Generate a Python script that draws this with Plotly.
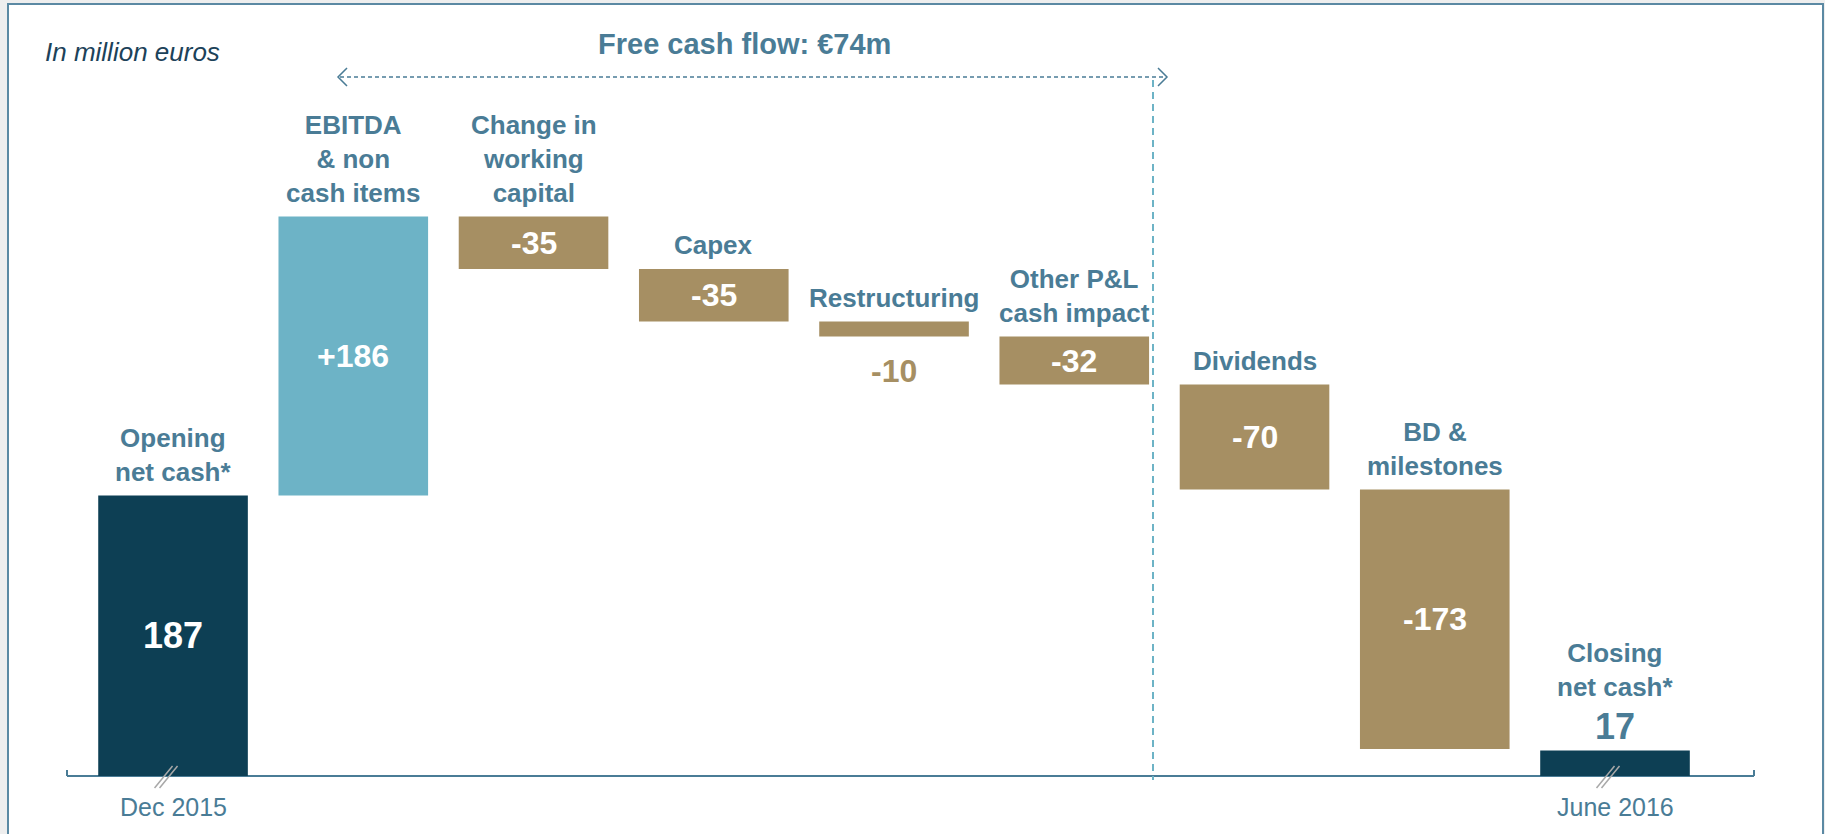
import plotly.graph_objects as go

W, H = 1825, 834

# ---------------- data ----------------
category_labels = [
    "Opening<br>net cash*",
    "EBITDA<br>&amp; non<br>cash items",
    "Change in<br>working<br>capital",
    "Capex",
    "Restructuring",
    "Other P&amp;L<br>cash impact",
    "Dividends",
    "BD &amp;<br>milestones",
    "Closing<br>net cash*",
]
values = [187, 186, -35, -35, -10, -32, -70, -173, 17]
measures = ["absolute", "relative", "relative", "relative", "relative",
            "relative", "relative", "relative", "absolute"]
value_labels = ["187", "+186", "-35", "-35", "-10", "-32", "-70", "-173", "17"]
period_labels = ["Dec 2015", "June 2016"]
period_index = [0, 8]
title_text = "Free cash flow: €74m"
unit_text = "In million euros"

# ---------------- style ----------------
NAVY = "#0d3f54"
LBLUE = "#6db3c6"
TAN = "#a68f63"
TXT = "#4a7c96"
DARKTXT = "#1c4259"
GRAY = "#a8a8a8"
FONT = "Liberation Sans, Arial, sans-serif"

XR = [-0.96, 9.165]
YR = [-38.67, 517.33]

x = list(range(len(values)))

# bar extents derived from the data
lo, hi = [], []
run = 0
for v, m in zip(values, measures):
    if m == "absolute":
        b, e = 0, v
    else:
        b, e = run, run + v
    run = e
    lo.append(min(b, e))
    hi.append(max(b, e))


def pxx(p):  # pixel x -> paper
    return p / W


def pyy(p):  # pixel y -> paper
    return 1 - p / H


def bar_px(i):
    return (i - XR[0]) / (XR[1] - XR[0]) * W


fig = go.Figure()
fig.add_trace(go.Waterfall(
    x=x, y=values, measure=measures, width=0.83,
    increasing=dict(marker=dict(color=LBLUE)),
    decreasing=dict(marker=dict(color=TAN)),
    totals=dict(marker=dict(color=NAVY)),
    connector=dict(visible=False),
    hoverinfo="skip", showlegend=False,
))

shapes = []
# frame
shapes.append(dict(type="rect", xref="paper", yref="paper",
                   x0=pxx(8), x1=pxx(1823), y0=pyy(845), y1=pyy(4),
                   line=dict(color="#5b89a3", width=2), fillcolor="white",
                   layer="below"))
# baseline axis
shapes.append(dict(type="line", xref="paper", yref="y",
                   x0=pxx(67), x1=pxx(1754), y0=0, y1=0,
                   line=dict(color=TXT, width=2), layer="below"))
for ex in (67, 1754):
    shapes.append(dict(type="line", xref="paper", yref="paper",
                       x0=pxx(ex), x1=pxx(ex), y0=pyy(776), y1=pyy(770),
                       line=dict(color=TXT, width=2)))
# axis break marks
for i in period_index:
    cx = bar_px(i) - 7
    for off in (-2.5, 2.5):
        shapes.append(dict(type="line", xref="paper", yref="paper",
                           x0=pxx(cx + off - 9), x1=pxx(cx + off + 9),
                           y0=pyy(788), y1=pyy(766),
                           line=dict(color=GRAY, width=1.5)))
# vertical dashed separator
shapes.append(dict(type="line", xref="paper", yref="paper",
                   x0=pxx(1153), x1=pxx(1153), y0=pyy(80), y1=pyy(780),
                   line=dict(color=LBLUE, width=2, dash="7px,5px")))
# horizontal dashed arrow
shapes.append(dict(type="line", xref="paper", yref="paper",
                   x0=pxx(340), x1=pxx(1165), y0=pyy(77), y1=pyy(77),
                   line=dict(color=TXT, width=1.5, dash="4px,3px")))
for tip, d in ((338, 1), (1167, -1)):
    path = "M {:.5f},{:.5f} L {:.5f},{:.5f} L {:.5f},{:.5f}".format(
        pxx(tip + d * 9), pyy(68), pxx(tip), pyy(77), pxx(tip + d * 9), pyy(86))
    shapes.append(dict(type="path", xref="paper", yref="paper", path=path,
                       line=dict(color=TXT, width=1.5)))

ann = []
# category labels
for i, lab in enumerate(category_labels):
    shift = 47 if i == len(category_labels) - 1 else 7
    ann.append(dict(x=i, y=hi[i], xref="x", yref="y", text=lab,
                    showarrow=False, yanchor="bottom", yshift=shift,
                    font=dict(family=FONT, size=26, color=TXT, weight="bold")))
# value labels
for i, vl in enumerate(value_labels):
    if i == 4:
        ann.append(dict(x=i, y=lo[i], text=vl, showarrow=False, yanchor="middle",
                        yshift=-34,
                        font=dict(family=FONT, size=32, color=TAN, weight="bold")))
    elif i == len(value_labels) - 1:
        ann.append(dict(x=i, y=hi[i], text=vl, showarrow=False, yanchor="middle",
                        yshift=24,
                        font=dict(family=FONT, size=36, color=TXT, weight="bold")))
    else:
        size = 36 if measures[i] == "absolute" else 32
        ann.append(dict(x=i, y=(lo[i] + hi[i]) / 2, text=vl, showarrow=False,
                        yanchor="middle",
                        font=dict(family=FONT, size=size, color="white",
                                  weight="bold")))
# period labels
for i, pl in zip(period_index, period_labels):
    ann.append(dict(x=i, y=0, text=pl, showarrow=False, yanchor="middle",
                    yshift=-31,
                    font=dict(family=FONT, size=25, color=TXT)))
# title and unit
ann.append(dict(x=pxx(744), y=pyy(44), xref="paper", yref="paper",
                text=title_text, showarrow=False, xanchor="center",
                yanchor="middle",
                font=dict(family=FONT, size=29, color=TXT, weight="bold")))
ann.append(dict(x=pxx(43), y=pyy(52), xref="paper", yref="paper",
                text=unit_text, showarrow=False, xanchor="left",
                yanchor="middle",
                font=dict(family=FONT, size=26, color=DARKTXT, style="italic")))

fig.update_layout(
    width=W, height=H,
    margin=dict(l=0, r=0, t=0, b=0, pad=0),
    paper_bgcolor="#eeeeee", plot_bgcolor="rgba(0,0,0,0)",
    xaxis=dict(range=XR, visible=False, fixedrange=True),
    yaxis=dict(range=YR, visible=False, fixedrange=True),
    shapes=shapes, annotations=ann, showlegend=False,
    font=dict(family=FONT),
)

fig.write_html("out.html",
               config={"displayModeBar": False},
               post_script="document.body.style.margin='0';"
                           "document.body.style.overflow='hidden';")
